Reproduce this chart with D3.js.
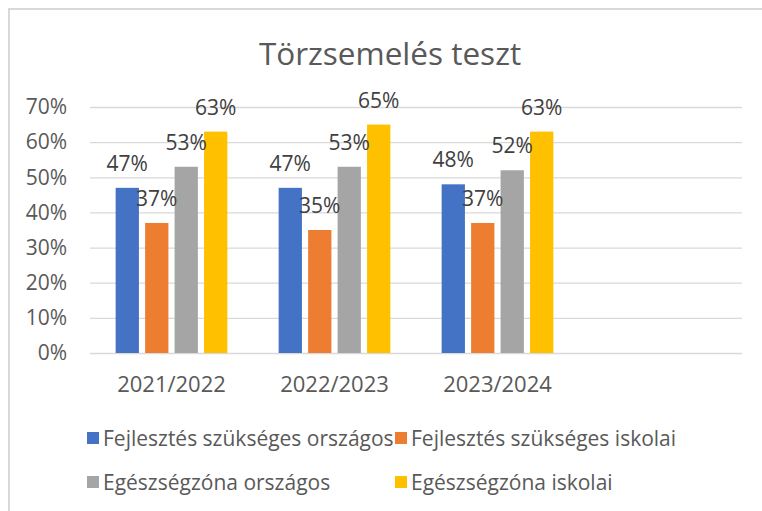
<!DOCTYPE html>
<html>
<head>
<meta charset="utf-8">
<script src="https://cdn.jsdelivr.net/npm/d3@7"></script>
<style>
  body { margin: 0; background: #fff; }
  svg { display: block; font-family: "Open Sans", sans-serif; }
</style>
</head>
<body>
<svg></svg>
<script>
//* Data
const categories = ["2021/2022", "2022/2023", "2023/2024", ""];
const seriesNames = [
  "Fejlesztés szükséges országos",
  "Fejlesztés szükséges iskolai",
  "Egészségzóna országos",
  "Egészségzóna iskolai"];
const fejlOrszagos = [0.47, 0.47, 0.48];
const fejlIskolai = [0.37, 0.35, 0.37];
const egeszOrszagos = [0.53, 0.53, 0.52];
const egeszIskolai = [0.63, 0.65, 0.63];
const yTicks = [0, 0.1, 0.2, 0.3, 0.4, 0.5, 0.6, 0.7];

const seriesValues = [fejlOrszagos, fejlIskolai, egeszOrszagos, egeszIskolai];
const colors = ["#4472C4", "#ED7D31", "#A5A5A5", "#FFC000"];

const width = 762;
const height = 511;
const plot = { left: 90, right: 742, top: 107, bottom: 353 };

const svg = d3.select("svg")
  .attr("width", width)
  .attr("height", height);

// Chart border (only top and left show in the crop)
svg.append("rect")
  .attr("x", 9)
  .attr("y", 9)
  .attr("width", width)
  .attr("height", height)
  .attr("fill", "none")
  .attr("stroke", "#D9D9D9")
  .attr("stroke-width", 2);

svg.append("text")
  .attr("x", 390)
  .attr("y", 65)
  .attr("text-anchor", "middle")
  .attr("font-size", 31.5)
  .attr("fill", "#595959")
  .text("Törzsemelés teszt");

const x = d3.scaleBand()
  .domain(categories)
  .range([plot.left, plot.right]);

const xInner = d3.scaleBand()
  .domain(seriesNames)
  .range([0, x.bandwidth()])
  .paddingInner(0.21)
  .paddingOuter(0.87);

const y = d3.scaleLinear()
  .domain([0, 0.7])
  .range([plot.bottom, plot.top]);

// Gridlines and y labels
const yAxis = svg.append("g")
  .attr("transform", `translate(${plot.left}, 0)`)
  .call(d3.axisLeft(y)
    .tickValues(yTicks)
    .tickFormat(d3.format(".0%"))
    .tickSize(-(plot.right - plot.left))
    .tickPadding(23));

yAxis.select(".domain").remove();
yAxis.selectAll(".tick line")
  .attr("stroke", "#D9D9D9")
  .attr("stroke-width", 1.3);
yAxis.selectAll(".tick text")
  .attr("font-size", 21)
  .attr("fill", "#595959")
  .attr("font-family", "Open Sans, sans-serif");

// X labels
const xAxis = svg.append("g")
  .attr("transform", `translate(0, ${plot.bottom})`)
  .call(d3.axisBottom(x).tickSize(0).tickPadding(23));

xAxis.select(".domain").remove();
xAxis.selectAll(".tick text")
  .attr("font-size", 22)
  .attr("fill", "#595959")
  .attr("font-family", "Open Sans, sans-serif");

// Bars
const barData = [];
seriesValues.forEach((vals, si) => {
  vals.forEach((v, ci) => {
    barData.push({ series: seriesNames[si], color: colors[si], cat: categories[ci], value: v });
  });
});

svg.append("g")
  .selectAll("rect")
  .data(barData)
  .join("rect")
    .attr("x", d => x(d.cat) + xInner(d.series))
    .attr("y", d => y(d.value))
    .attr("width", xInner.bandwidth())
    .attr("height", d => y(0) - y(d.value))
    .attr("fill", d => d.color);

svg.append("g")
  .selectAll("text")
  .data(barData)
  .join("text")
    .attr("x", d => x(d.cat) + xInner(d.series) + xInner.bandwidth() / 2)
    .attr("y", d => y(d.value) - 17)
    .attr("text-anchor", "middle")
    .attr("font-size", 21)
    .attr("fill", "#404040")
    .text(d => d3.format(".0%")(d.value));

// Legend, two rows of two
const legendPos = [[87, 438], [395, 438], [87, 482], [395, 482]];
const legend = svg.append("g")
  .selectAll("g")
  .data(seriesNames)
  .join("g")
    .attr("transform", (d, i) => `translate(${legendPos[i][0]}, ${legendPos[i][1]})`);

legend.append("rect")
  .attr("x", 0)
  .attr("y", -6)
  .attr("width", 12)
  .attr("height", 12)
  .attr("fill", (d, i) => colors[i]);

legend.append("text")
  .attr("x", 16)
  .attr("y", 7.5)
  .attr("font-size", 21)
  .attr("fill", "#595959")
  .text(d => d);
</script>
</body>
</html>
